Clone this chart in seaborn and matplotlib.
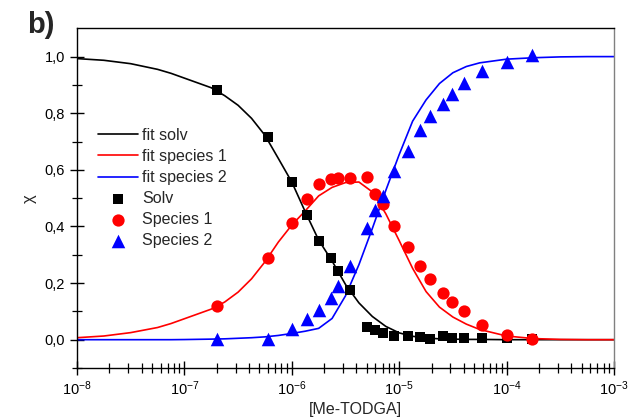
import numpy as np
import pandas as pd
import matplotlib
matplotlib.use("Agg")
import matplotlib.pyplot as plt
import seaborn as sns
from matplotlib.ticker import FixedLocator, FixedFormatter, LogLocator, NullFormatter

# ---- measured points ----
conc = [2e-7, 6e-7, 1e-6, 1.4e-6, 1.8e-6, 2.3e-6, 2.7e-6, 3.5e-6, 5e-6, 6e-6, 7e-6,
        9e-6, 1.2e-5, 1.56e-5, 1.94e-5, 2.54e-5, 3.08e-5, 4.01e-5, 5.86e-5, 1.0e-4, 1.73e-4]
solv = [0.883, 0.716, 0.558, 0.440, 0.350, 0.287, 0.242, 0.177, 0.044, 0.033, 0.024,
        0.012, 0.013, 0.009, 0.002, 0.014, 0.007, 0.006, 0.006, 0.006, 0.002]
species1 = [0.118, 0.287, 0.411, 0.497, 0.550, 0.568, 0.572, 0.570, 0.573, 0.516, 0.478,
            0.402, 0.328, 0.260, 0.214, 0.166, 0.133, 0.100, 0.053, 0.018, 0.001]
species2 = [0.003, 0.003, 0.039, 0.074, 0.106, 0.148, 0.190, 0.260, 0.394, 0.458, 0.506,
            0.595, 0.668, 0.741, 0.789, 0.834, 0.869, 0.907, 0.948, 0.980, 1.005]

# ---- fit curves ----
fit_log_conc = [-8, -7.75, -7.5, -7.25, -7.125, -7, -6.75, -6.625, -6.5, -6.375, -6.25, -6.125,
                -6, -5.875, -5.75, -5.625, -5.5, -5.375, -5.25, -5.125, -5, -4.875, -4.75,
                -4.625, -4.5, -4.375, -4.25, -4, -3.75, -3.5, -3.25, -3]
fit_solv = [0.993, 0.987, 0.975, 0.955, 0.941, 0.924, 0.890, 0.862, 0.828, 0.782, 0.722, 0.640,
            0.557, 0.452, 0.352, 0.278, 0.195, 0.130, 0.082, 0.047, 0.024, 0.012, 0.006,
            0.003, 0.002, 0.001, 0.001, 0.0, 0.0, 0.0, 0.0, 0.0]
fit_species1 = [0.007, 0.013, 0.025, 0.043, 0.057, 0.074, 0.108, 0.133, 0.168, 0.215, 0.275, 0.345,
                0.405, 0.455, 0.508, 0.538, 0.555, 0.557, 0.522, 0.445, 0.350, 0.252, 0.170,
                0.115, 0.080, 0.055, 0.036, 0.013, 0.004, 0.001, 0.0, 0.0]
fit_species2 = [0.0, 0.0, 0.0, 0.0, 0.0, 0.0005, 0.002, 0.003, 0.005, 0.007, 0.010, 0.015,
                0.022, 0.030, 0.040, 0.075, 0.155, 0.265, 0.393, 0.527, 0.654, 0.772, 0.847,
                0.905, 0.943, 0.965, 0.978, 0.991, 0.996, 0.999, 1.0, 1.0]

y_ticks = [0.0, 0.2, 0.4, 0.6, 0.8, 1.0]
y_tick_labels = ["0,0", "0,2", "0,4", "0,6", "0,8", "1,0"]
x_ticks = [1e-8, 1e-7, 1e-6, 1e-5, 1e-4, 1e-3]
x_tick_labels = [r"$\mathregular{10^{-8}}$", r"$\mathregular{10^{-7}}$", r"$\mathregular{10^{-6}}$",
                 r"$\mathregular{10^{-5}}$", r"$\mathregular{10^{-4}}$", r"$\mathregular{10^{-3}}$"]

sns.set_theme(style="ticks")
plt.rcParams["font.family"] = ["Liberation Sans", "DejaVu Sans"]
plt.rcParams["mathtext.default"] = "regular"

fig = plt.figure(figsize=(6.37, 4.18), dpi=100)
ax = fig.add_axes([77/637, 1-368/418, (614-77)/637, (368-28.3)/418])
ax.set_xscale("log")

fit_df = pd.DataFrame({"c": 10.0 ** np.array(fit_log_conc), "solv": fit_solv,
                       "s1": fit_species1, "s2": fit_species2})
pts = pd.DataFrame({"c": conc, "solv": solv, "s1": species1, "s2": species2})

lw = 1.2
sns.lineplot(data=fit_df, x="c", y="solv", color="black", lw=lw, ax=ax, label="fit solv")
sns.lineplot(data=fit_df, x="c", y="s1", color="#ff0000", lw=lw, ax=ax, label="fit species 1")
sns.lineplot(data=fit_df, x="c", y="s2", color="#0000ff", lw=lw, ax=ax, label="fit species 2")
sns.scatterplot(data=pts, x="c", y="solv", marker="s", s=62, color="black", linewidth=0,
                ax=ax, label="Solv", zorder=3)
sns.scatterplot(data=pts, x="c", y="s1", marker="o", s=78, color="#ff0000", linewidth=0,
                ax=ax, label="Species 1", zorder=4)
sns.scatterplot(data=pts, x="c", y="s2", marker="^", s=95, color="#0000ff", linewidth=0,
                ax=ax, label="Species 2", zorder=5)

ax.set_xlim(1e-8, 1e-3)
ax.set_ylim(-0.1, 1.1)
ax.xaxis.set_major_locator(FixedLocator(x_ticks))
ax.xaxis.set_major_formatter(FixedFormatter(x_tick_labels))
ax.xaxis.set_minor_locator(LogLocator(base=10, subs=np.arange(2, 10), numticks=20))
ax.xaxis.set_minor_formatter(NullFormatter())
ax.yaxis.set_major_locator(FixedLocator(y_ticks))
ax.yaxis.set_major_formatter(FixedFormatter(y_tick_labels))
ax.yaxis.set_minor_locator(FixedLocator([-0.1, 0.1, 0.3, 0.5, 0.7, 0.9]))

ax.tick_params(which="major", direction="inout", length=10, width=1.0, labelsize=10.5,
               color="black", labelcolor="black")
ax.tick_params(which="minor", direction="inout", length=6.5, width=0.9, color="black")
ax.tick_params(axis="x", which="major", pad=3)
for s in ["left", "bottom", "top"]:
    ax.spines[s].set_color("black")
    ax.spines[s].set_linewidth(1.0)
ax.spines["right"].set_color("#808080")
ax.spines["right"].set_linewidth(1.0)

ax.set_xlabel("[Me-TODGA]", fontsize=11.5)
ax.xaxis.set_label_coords((355 - 77) / 537, -0.1)
ax.set_ylabel("χ", fontsize=12, labelpad=6)

leg = ax.legend(loc="upper left", bbox_to_anchor=(98/637, 1-128/418),
                bbox_transform=fig.transFigure, frameon=False, fontsize=11.5,
                handlelength=2.5, handletextpad=0.25, labelspacing=0.38,
                borderpad=0, borderaxespad=0)

fig.text(27/637, 1-33/418, "b)", fontsize=21, fontweight="bold", va="baseline", ha="left")

fig.savefig("out.png", dpi=100, facecolor="white")
